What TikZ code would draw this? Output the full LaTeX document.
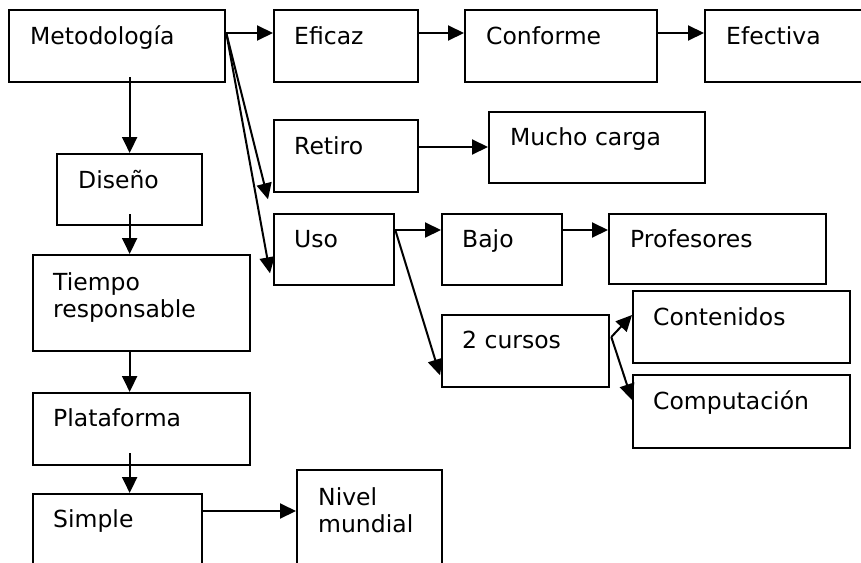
\documentclass[tikz,border=0pt]{standalone}
\usepackage{fontspec}
\setmainfont{DejaVu Sans}
\usetikzlibrary{arrows.meta,calc}
\begin{document}
\begin{tikzpicture}[x=1pt,y=-1pt,
  box/.style={draw=black,line width=2.3pt,rectangle,inner sep=0pt,anchor=north west},
  lbl/.style={anchor=base west,inner sep=0pt,font=\fontsize{23.5pt}{27pt}\selectfont,align=left},
  arr/.style={draw=black,line width=2pt,-{Triangle[length=16pt,width=15pt]}}]
\useasboundingbox (0,0) rectangle (861,562);
\clip (0,0) rectangle (861,562);
\fill[white] (0,0) rectangle (861,562);
% boxes
\node[box,minimum width=216pt,minimum height=72pt] (meto) at (8,9) {};
\node[box,minimum width=144pt,minimum height=72pt] (eficaz) at (273,9) {};
\node[box,minimum width=192pt,minimum height=72pt] (conf) at (464,9) {};
\node[box,minimum width=170pt,minimum height=72pt] (efec) at (704,9) {};
\node[box,minimum width=144pt,minimum height=72pt] (retiro) at (273,119) {};
\node[box,minimum width=216pt,minimum height=71pt] (mucho) at (488,111) {};
\node[box,minimum width=120pt,minimum height=71pt] (uso) at (273,213) {};
\node[box,minimum width=120pt,minimum height=71pt] (bajo) at (441,213) {};
\node[box,minimum width=217pt,minimum height=70pt] (prof) at (608,213) {};
\node[box,minimum width=167pt,minimum height=72pt] (cursos) at (441,314) {};
\node[box,minimum width=217pt,minimum height=72pt] (cont) at (632,290) {};
\node[box,minimum width=217pt,minimum height=73pt] (comp) at (632,374) {};
\node[box,minimum width=145pt,minimum height=71pt] (dis) at (56,153) {};
\node[box,minimum width=217pt,minimum height=96pt] (tiem) at (32,254) {};
\node[box,minimum width=217pt,minimum height=72pt] (plat) at (32,392) {};
\node[box,minimum width=169pt,minimum height=90pt] (simp) at (32,493) {};
\node[box,minimum width=145pt,minimum height=110pt] (nivel) at (296,469) {};
% labels
\node[lbl] (tmeto) at ($(meto.north west)+(22,35)$) {Metodología};
\node[lbl] (teficaz) at ($(eficaz.north west)+(21,35)$) {Eficaz};
\node[lbl] (tconf) at ($(conf.north west)+(22,35)$) {Conforme};
\node[lbl] (tefec) at ($(efec.north west)+(22,35)$) {Efectiva};
\node[lbl] (tretiro) at ($(retiro.north west)+(21,35)$) {Retiro};
\node[lbl] (tmucho) at ($(mucho.north west)+(22,34)$) {Mucho carga};
\node[lbl] (tuso) at ($(uso.north west)+(21,34)$) {Uso};
\node[lbl] (tbajo) at ($(bajo.north west)+(21,34)$) {Bajo};
\node[lbl] (tprof) at ($(prof.north west)+(22,34)$) {Profesores};
\node[lbl] (tcursos) at ($(cursos.north west)+(21,34)$) {2 cursos};
\node[lbl] (tcont) at ($(cont.north west)+(21,35)$) {Contenidos};
\node[lbl] (tcomp) at ($(comp.north west)+(21,35)$) {Computación};
\node[lbl] (tdis) at ($(dis.north west)+(22,35)$) {Diseño};
\node[lbl] (ttiem) at ($(tiem.north west)+(21,63)$) {Tiempo\\responsable};
\node[lbl] (tplat) at ($(plat.north west)+(21,34)$) {Plataforma};
\node[lbl] (tsimp) at ($(simp.north west)+(21,34)$) {Simple};
\node[lbl] (tnivel) at ($(nivel.north west)+(22,63)$) {Nivel\\mundial};
% connector end points
\coordinate (mo) at ($(meto.north east)+(0,24)$);
\coordinate (eo) at ($(eficaz.north east)+(0,24)$);
\coordinate (fo) at ($(conf.north east)+(0,24)$);
\coordinate (ro) at ($(retiro.north east)+(0,28)$);
\coordinate (uo) at ($(uso.north east)+(0,17)$);
\coordinate (bo) at ($(bajo.north east)+(0,17)$);
\coordinate (so) at ($(simp.north east)+(0,18)$);
\coordinate (co) at ($(cursos.north east)+(1,23)$);
% horizontal connectors
\draw[arr] (mo) -- (mo -| eficaz.west);
\draw[arr] (eo) -- (eo -| conf.west);
\draw[arr] (fo) -- (fo -| efec.west);
\draw[arr] (ro) -- (ro -| mucho.west);
\draw[arr] (uo) -- (uo -| bajo.west);
\draw[arr] (bo) -- (bo -| prof.west);
\draw[arr] (so) -- (so -| nivel.west);
% diagonal connectors
\draw[arr] (mo) -- ($(retiro.south west)+(-5,6)$);
\draw[arr] (mo) -- ($(uso.south west)+(-3,-13)$);
\draw[arr] (uo) -- ($(cursos.south west)+(-1,-13)$);
\draw[arr] (co) -- ($(cont.north west)+(0,25)$);
\draw[arr] (co) -- ($(comp.north west)+(0,26)$);
% vertical connectors
\coordinate (v1) at ($(meto.south -| dis.north)+(0,-6)$);
\coordinate (v2) at ($(dis.south)+(0,-12)$);
\coordinate (v3) at (tiem.south -| dis.south);
\coordinate (v4) at ($(plat.south -| dis.south)+(0,-13)$);
\draw[arr] (v1) -- (dis.north);
\draw[arr] (v2) -- (v2 |- tiem.north);
\draw[arr] (v3) -- (v3 |- plat.north);
\draw[arr] (v4) -- (v4 |- simp.north);
\end{tikzpicture}
\end{document}
